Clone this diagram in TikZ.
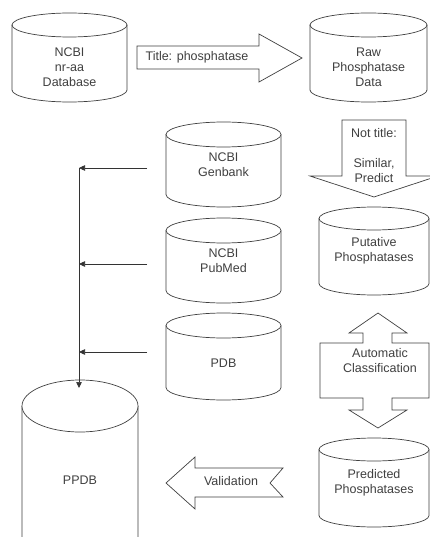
\documentclass[tikz,border=0pt]{standalone}
\usepackage{fontspec}
\setmainfont{Liberation Sans}
\usetikzlibrary{arrows.meta}
\tikzset{
  shapeline/.style={draw=black!75, line width=0.7pt, fill=white},
  lbl/.style={inner sep=0pt, align=center, text=black!75, font=\fontsize{12.5}{15}\selectfont},
  conn/.style={draw=black!80, line width=0.7pt, -{Triangle[length=6pt,width=5.5pt]}},
}
% \cyl{name}{left}{right}{top}{bottom}{ry}{text y}{text}
\newcommand{\cyl}[8]{%
  \pgfmathsetmacro{\crx}{(#3-#2)/2}%
  \pgfmathsetmacro{\ccx}{(#3+#2)/2}%
  \path[shapeline] (#2,#4+#6) -- (#2,#5-#6)
     arc[start angle=180, end angle=0, x radius=\crx, y radius=#6] -- (#3,#4+#6);
  \path[shapeline] (\ccx,#4+#6) ellipse[x radius=\crx, y radius=#6];
  \node[lbl] (#1) at (\ccx,#7) {#8};%
}
\begin{document}
\begin{tikzpicture}[x=1pt,y=-1pt]
\useasboundingbox (0,0) rectangle (430,537);
\clip (0,0) rectangle (430,537);
\fill[white] (0,0) rectangle (430,537);

% cylinders
\cyl{nraa}{12}{127}{13}{102}{12}{67}{NCBI\\nr-aa\\Database}
\cyl{raw}{310}{427}{13}{102}{12}{67}{Raw\\Phosphatase\\Data}
\cyl{genbank}{166}{281}{122}{207}{12.5}{165}{NCBI\\Genbank}
\cyl{pubmed}{166}{281}{218}{303}{12.5}{261}{NCBI\\PubMed}
\cyl{pdb}{166}{281}{313}{400}{12.5}{363}{PDB}
\cyl{putative}{319}{429}{207}{295}{11.5}{251}{Putative\\Phosphatases}
\cyl{predicted}{319}{429}{438}{527}{11.5}{483}{Predicted\\Phosphatases}
\cyl{ppdb}{22}{138}{380}{565}{26}{480}{PPDB}

% block arrows
\path[shapeline] (137,46) -- (259,46) -- (259,34) -- (302,58) -- (259,82) -- (259,69) -- (137,69) -- cycle;
\node[lbl] (title) at (197,57) {Title: phosphatase};

\path[shapeline] (342,120) -- (406,120) -- (406,176) -- (438,176) -- (374,197) -- (310,176) -- (342,176) -- cycle;
\node[lbl] (nottitle) at (374,155.5) {Not title:\\[15pt]Similar,\\Predict};

\path[shapeline] (378,313) -- (407,333) -- (392,333) -- (392,343) -- (429,343) -- (429,398) -- (392,398) -- (392,410) -- (407,410) -- (378,428) -- (349,410) -- (363,410) -- (363,398) -- (320,398) -- (320,343) -- (363,343) -- (363,333) -- (349,333) -- cycle;
\node[lbl] (auto) at (380,361) {Automatic\\Classification};

\path[shapeline] (166,483) -- (195,457) -- (195,468) -- (283,468) -- (270,483) -- (283,497) -- (195,497) -- (195,509) -- cycle;
\node[lbl] (valid) at (231,481) {Validation};

% connectors
\coordinate (s1) at (147,168);
\coordinate (s2) at (147,264);
\coordinate (s3) at (147,352);
\coordinate (j1) at (79,168);
\coordinate (j2) at (79,264);
\coordinate (j3) at (79,352);
\coordinate (ppdbtop) at (79,388);
\draw[conn] (s1) -- (j1);
\draw[conn] (s2) -- (j2);
\draw[conn] (s3) -- (j3);
\draw[conn] (j1) -- (ppdbtop);
\end{tikzpicture}
\end{document}
